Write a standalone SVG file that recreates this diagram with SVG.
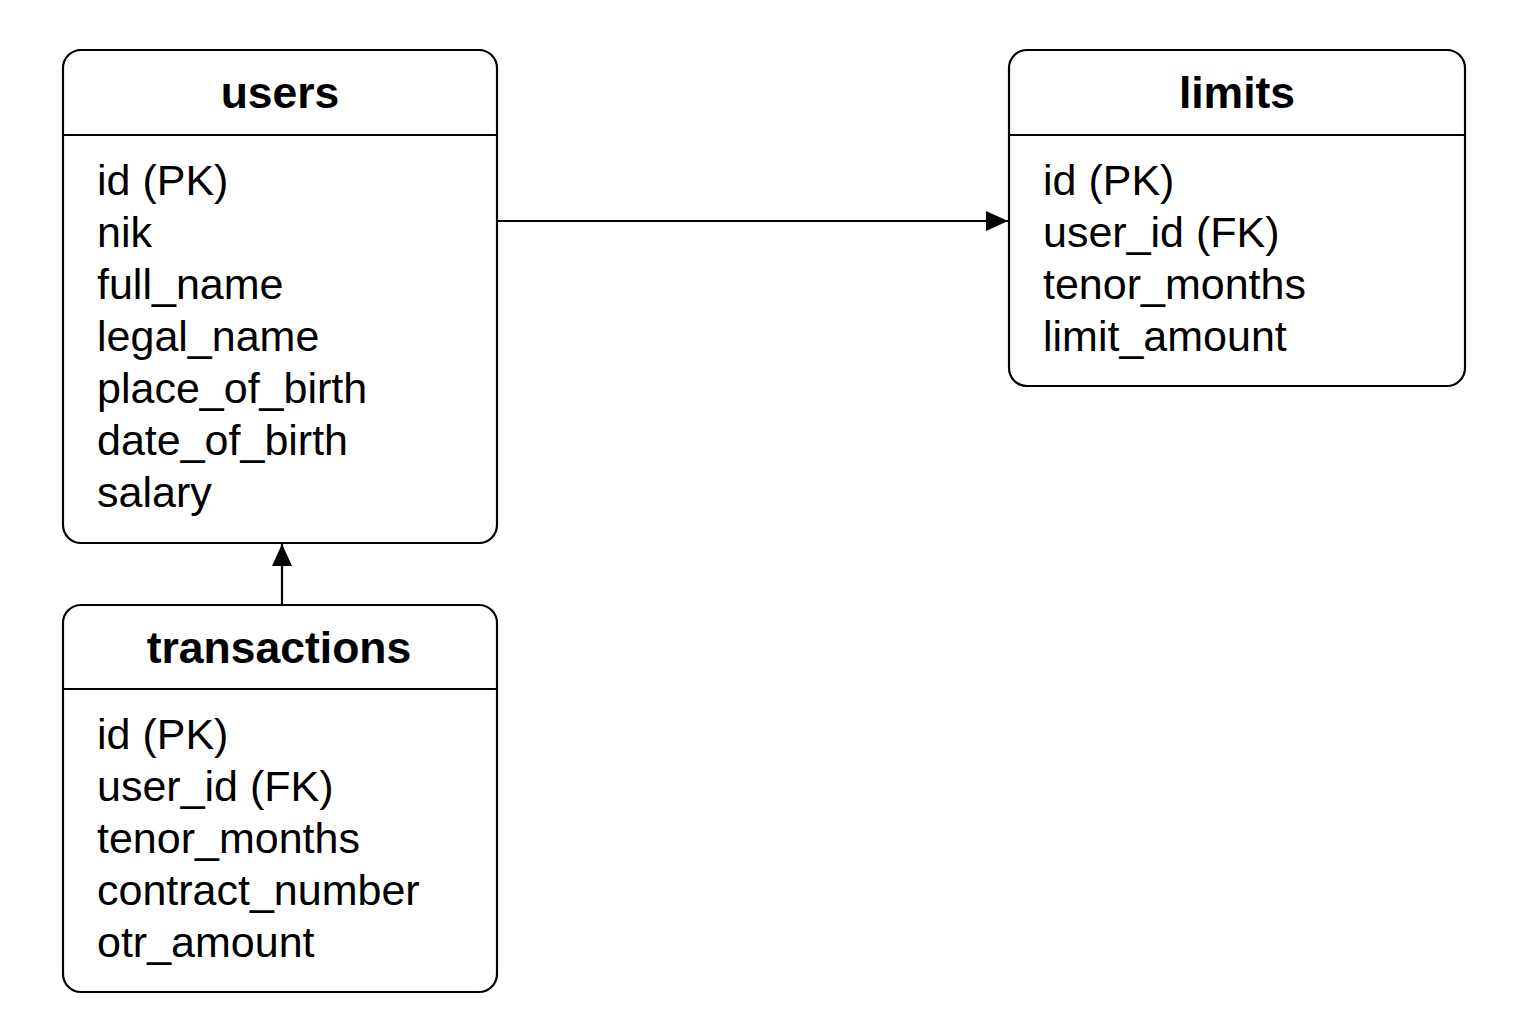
<svg xmlns="http://www.w3.org/2000/svg" width="1536" height="1024" viewBox="0 0 1536 1024">
<defs>
<style>
.box{fill:#fff;stroke:#000;stroke-width:2.2}
.div{stroke:#000;stroke-width:2}
.title{font-family:"Liberation Sans",Arial,sans-serif;font-weight:bold;font-size:44.5px;text-anchor:middle;fill:#000}
.row{font-family:"Liberation Sans",Arial,sans-serif;font-size:43px;fill:#000}
.conn{stroke:#000;stroke-width:2.2;fill:none}
</style>
<marker id="arrow" markerWidth="22" markerHeight="20" refX="22" refY="10" orient="auto" markerUnits="userSpaceOnUse">
<path d="M0,0 L22,10 L0,20 Z" fill="#000"/>
</marker>
</defs>
<rect width="1536" height="1024" fill="#fff"/>
<g id="connectors">
<line class="conn" x1="498" y1="221" x2="1008" y2="221" marker-end="url(#arrow)"/>
<line class="conn" x1="282" y1="605" x2="282" y2="544" marker-end="url(#arrow)"/>
</g>
<g id="users">
<rect class="box" x="63" y="50" width="434" height="493" rx="18"/>
<line class="div" x1="63" y1="135" x2="497" y2="135"/>
<text class="title" x="280" y="108">users</text>
<text class="row" x="97" y="195">id (PK)</text>
<text class="row" x="97" y="247">nik</text>
<text class="row" x="97" y="299">full_name</text>
<text class="row" x="97" y="351">legal_name</text>
<text class="row" x="97" y="403">place_of_birth</text>
<text class="row" x="97" y="455">date_of_birth</text>
<text class="row" x="97" y="507">salary</text>
</g>
<g id="limits">
<rect class="box" x="1009" y="50" width="456" height="336" rx="18"/>
<line class="div" x1="1009" y1="135" x2="1465" y2="135"/>
<text class="title" x="1237" y="108">limits</text>
<text class="row" x="1043" y="195">id (PK)</text>
<text class="row" x="1043" y="247">user_id (FK)</text>
<text class="row" x="1043" y="299">tenor_months</text>
<text class="row" x="1043" y="351">limit_amount</text>
</g>
<g id="transactions">
<rect class="box" x="63" y="605" width="434" height="387" rx="18"/>
<line class="div" x1="63" y1="689" x2="497" y2="689"/>
<text class="title" x="279" y="663">transactions</text>
<text class="row" x="97" y="749">id (PK)</text>
<text class="row" x="97" y="801">user_id (FK)</text>
<text class="row" x="97" y="853">tenor_months</text>
<text class="row" x="97" y="905">contract_number</text>
<text class="row" x="97" y="957">otr_amount</text>
</g>
</svg>
